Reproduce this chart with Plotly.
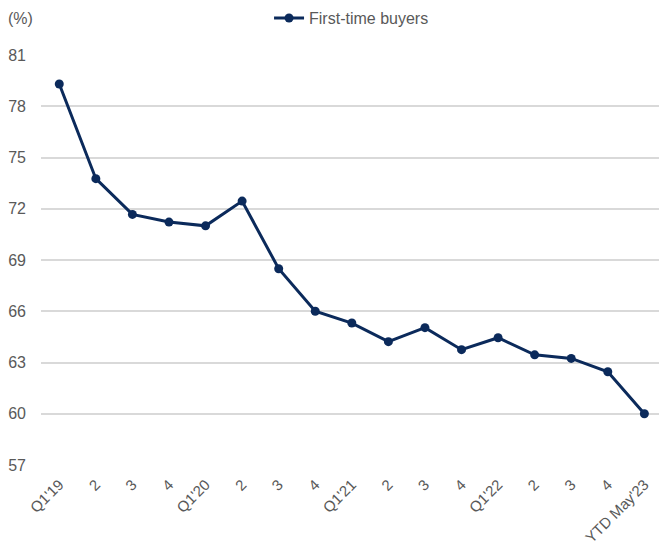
import plotly.graph_objects as go

categories = ["Q1'19", "2", "3", "4", "Q1'20", "2", "3", "4", "Q1'21", "2", "3", "4",
              "Q1'22", "2", "3", "4", "YTD May'23"]
first_time_buyers = [79.3, 73.76, 71.67, 71.22, 71.0, 72.45, 68.49, 66.0, 65.31, 64.22,
                     65.04, 63.75, 64.45, 63.45, 63.24, 62.46, 60.0]
y_ticks = [57, 60, 63, 66, 69, 72, 75, 78, 81]

navy = "#0b2a5b"
gray = "#595959"
font_family = "Arial, Liberation Sans, sans-serif"

x_idx = list(range(len(categories)))

fig = go.Figure()
fig.add_trace(go.Scatter(
    x=x_idx, y=first_time_buyers, mode="lines+markers", name="First-time buyers",
    line=dict(color=navy, width=3),
    marker=dict(color=navy, size=9),
))

fig.update_layout(
    width=659, height=555,
    margin=dict(l=41, r=0, t=55, b=90),
    paper_bgcolor="white", plot_bgcolor="white",
    font=dict(family=font_family, size=15, color=gray),
    showlegend=True,
    legend=dict(orientation="h", x=0.369, xanchor="left", y=1.09, yanchor="middle",
                font=dict(size=16, color=gray), bgcolor="rgba(0,0,0,0)"),
    xaxis=dict(
        range=[-0.5, 16.4], tickmode="array", tickvals=x_idx, ticktext=categories,
        tickangle=-45, showgrid=False, zeroline=False, showline=False, ticks="",
        tickfont=dict(size=15, color=gray), ticklabelstandoff=7,
    ),
    yaxis=dict(
        range=[57, 81], tickmode="array", tickvals=y_ticks,
        ticktext=[str(v) for v in y_ticks],
        showgrid=True, gridcolor="#d9d9d9", gridwidth=1.5, zeroline=False,
        showline=False, ticks="", tickfont=dict(size=16, color=gray),
        ticklabelstandoff=14,
    ),
    annotations=[dict(text="(%)", xref="paper", yref="paper", x=-0.057, y=1.09,
                      xanchor="left", yanchor="middle", showarrow=False,
                      font=dict(size=16, color=gray))],
)

fig.write_html("out.html")
